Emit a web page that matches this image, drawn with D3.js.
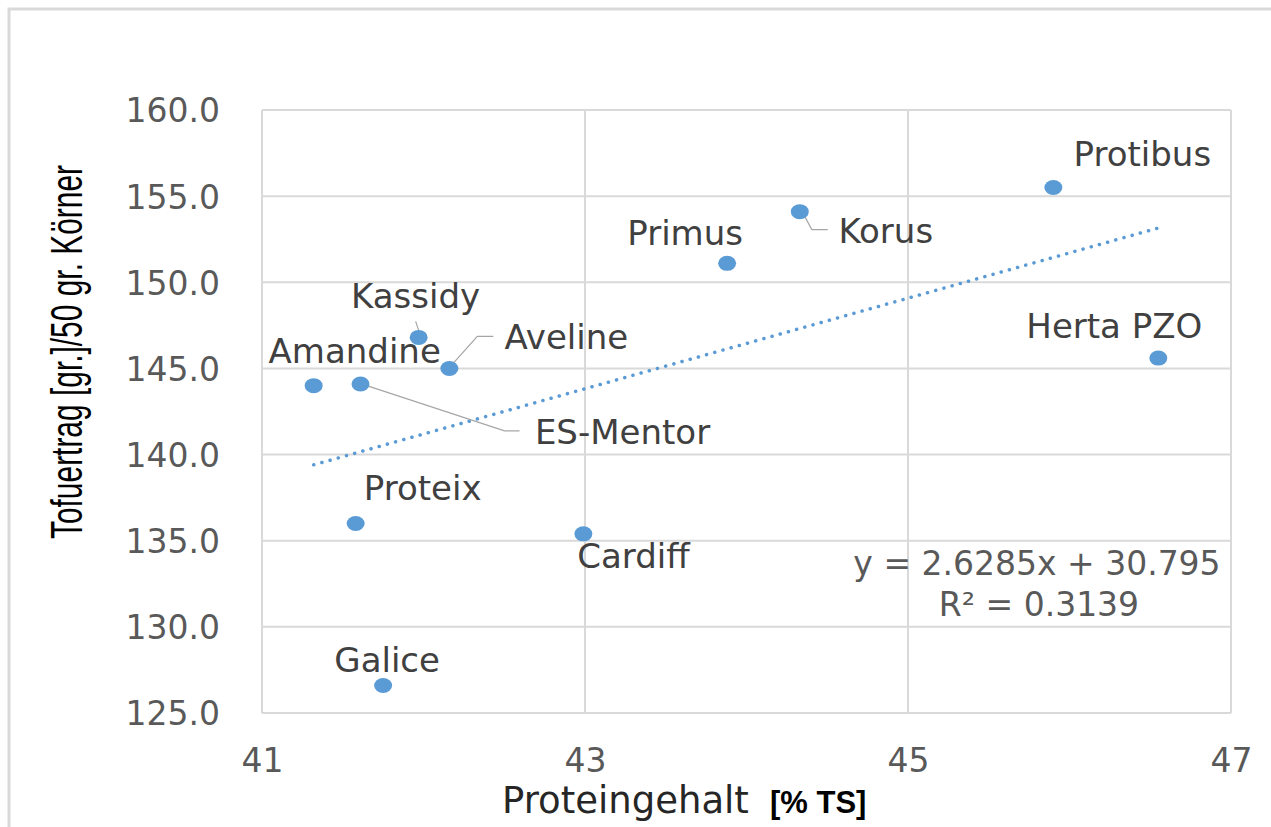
<!DOCTYPE html>
<html>
<head>
<meta charset="utf-8">
<script src="https://cdn.jsdelivr.net/npm/d3@7"></script>
<style>
  body { margin: 0; background: #fff; }
  svg { display: block; }
</style>
</head>
<body>
<div id="chart"></div>
<script>
// data
let varieties = ["Amandine", "ES-Mentor", "Kassidy", "Aveline", "Proteix", "Galice",
                 "Cardiff", "Primus", "Korus", "Protibus", "Herta PZO"];
let protein = [41.32, 41.61, 41.97, 42.16, 41.58, 41.75, 42.99, 43.88, 44.33, 45.90, 46.55];
let tofu = [144.0, 144.1, 146.8, 145.0, 136.0, 126.6, 135.4, 151.1, 154.1, 155.5, 145.6];
let xTicks = [41, 43, 45, 47];
let yTicks = [125, 130, 135, 140, 145, 150, 155, 160];
let slope = 2.6285, intercept = 30.795, r2 = 0.3139;

// label placement (offset from the point) and leader lines
let labelOffsets = [[41, -23], [262, 60], [-3, -29], [117, -19], [67, -23], [4, -13],
                    [50, 34], [-42, -18], [86, 31], [89, -22], [-44, -20]];
let leaders = {
    "ES-Mentor": [[4, 1], [144, 47], [159, 47]],
    "Kassidy": [[-3, -16], [0, -7]],
    "Aveline": [[2, -3], [28, -32], [44, -32]],
    "Korus": [[4, 3], [12, 18], [28, 18]]
};

let width = 1271, height = 827;
let plot = { left: 262, right: 1231, top: 110, bottom: 713 };

let svg = d3.select("#chart").append("svg")
    .attr("width", width)
    .attr("height", height);

// chart frame (only top and left edges are visible)
svg.append("rect")
    .attr("x", 9).attr("y", 9)
    .attr("width", width + 20).attr("height", height + 20)
    .attr("fill", "none")
    .attr("stroke", "#d9d9d9")
    .attr("stroke-width", 3);

let x = d3.scaleLinear().domain([41, 47]).range([plot.left, plot.right]);
let y = d3.scaleLinear().domain([125, 160]).range([plot.bottom, plot.top]);

// gridlines
svg.append("g")
    .selectAll("line.v")
    .data(xTicks)
    .enter()
    .append("line")
    .attr("x1", d => x(d)).attr("x2", d => x(d))
    .attr("y1", plot.top).attr("y2", plot.bottom)
    .attr("stroke", "#d9d9d9").attr("stroke-width", 2);

svg.append("g")
    .selectAll("line.h")
    .data(yTicks)
    .enter()
    .append("line")
    .attr("x1", plot.left).attr("x2", plot.right)
    .attr("y1", d => y(d)).attr("y2", d => y(d))
    .attr("stroke", "#d9d9d9").attr("stroke-width", 2);

// axes (labels only)
let xAxis = svg.append("g")
    .attr("transform", "translate(0," + (plot.bottom + 36) + ")")
    .call(d3.axisBottom(x).tickValues(xTicks).tickSize(0).tickFormat(d3.format("d")));
let yAxis = svg.append("g")
    .attr("transform", "translate(" + (plot.left - 42) + ",0)")
    .call(d3.axisLeft(y).tickValues(yTicks).tickSize(0).tickFormat(d3.format(".1f")));

[xAxis, yAxis].forEach(function (ax) {
    ax.select(".domain").remove();
    ax.selectAll("text")
        .attr("fill", "#595959")
        .style("font-family", "'DejaVu Sans', sans-serif")
        .style("font-size", "33px");
});
xAxis.selectAll("text").attr("dy", "0.71em").attr("y", 0);
yAxis.selectAll("text").attr("dy", "0.36em").attr("x", 0);

// axis titles
svg.append("text")
    .attr("transform", "translate(82,352) rotate(-90) scale(0.68,1)")
    .attr("text-anchor", "middle")
    .style("font-family", "'Liberation Sans', Arial, sans-serif")
    .style("font-size", "44px")
    .attr("fill", "#000")
    .text("Tofuertrag [gr.]/50 gr. Körner");

svg.append("text")
    .attr("x", 502).attr("y", 813)
    .style("font-family", "'DejaVu Sans', sans-serif")
    .style("font-size", "37px")
    .attr("fill", "#262626")
    .text("Proteingehalt");

svg.append("text")
    .attr("x", 770).attr("y", 813)
    .style("font-family", "'Liberation Sans', Arial, sans-serif")
    .style("font-size", "31px")
    .style("font-weight", "bold")
    .attr("fill", "#000")
    .text("[% TS]");

// trendline
let xMin = d3.min(protein), xMax = d3.max(protein);
svg.append("line")
    .attr("x1", x(xMin)).attr("y1", y(slope * xMin + intercept))
    .attr("x2", x(xMax)).attr("y2", y(slope * xMax + intercept))
    .attr("stroke", "#5b9bd5")
    .attr("stroke-width", 3.5)
    .attr("stroke-linecap", "round")
    .attr("stroke-dasharray", "0.1 8.4");

// trendline equation
let eq = svg.append("text")
    .attr("text-anchor", "middle")
    .style("font-family", "'DejaVu Sans', sans-serif")
    .style("font-size", "33px")
    .attr("fill", "#595959");
eq.append("tspan").attr("x", 1037).attr("y", 575)
    .text("y = " + slope + "x + " + intercept);
eq.append("tspan").attr("x", 1039).attr("y", 616)
    .text("R² = " + r2);

let pts = varieties.map(function (v, i) {
    return { name: v, px: protein[i], ty: tofu[i], off: labelOffsets[i] };
});

// leader lines
svg.append("g")
    .selectAll("polyline")
    .data(pts.filter(d => leaders[d.name]))
    .enter()
    .append("polyline")
    .attr("points", d => leaders[d.name].map(p => (x(d.px) + p[0]) + "," + (y(d.ty) + p[1])).join(" "))
    .attr("fill", "none")
    .attr("stroke", "#a6a6a6")
    .attr("stroke-width", 1.2);

// points
svg.append("g")
    .selectAll("ellipse")
    .data(pts)
    .enter()
    .append("ellipse")
    .attr("cx", d => x(d.px))
    .attr("cy", d => y(d.ty))
    .attr("rx", 9)
    .attr("ry", 7.5)
    .attr("fill", "#5b9bd5");

// data labels
svg.append("g")
    .selectAll("text")
    .data(pts)
    .enter()
    .append("text")
    .attr("x", d => x(d.px) + d.off[0])
    .attr("y", d => y(d.ty) + d.off[1])
    .attr("text-anchor", "middle")
    .style("font-family", "'DejaVu Sans', sans-serif")
    .style("font-size", "34px")
    .attr("fill", "#404040")
    .text(d => d.name);
</script>
</body>
</html>
